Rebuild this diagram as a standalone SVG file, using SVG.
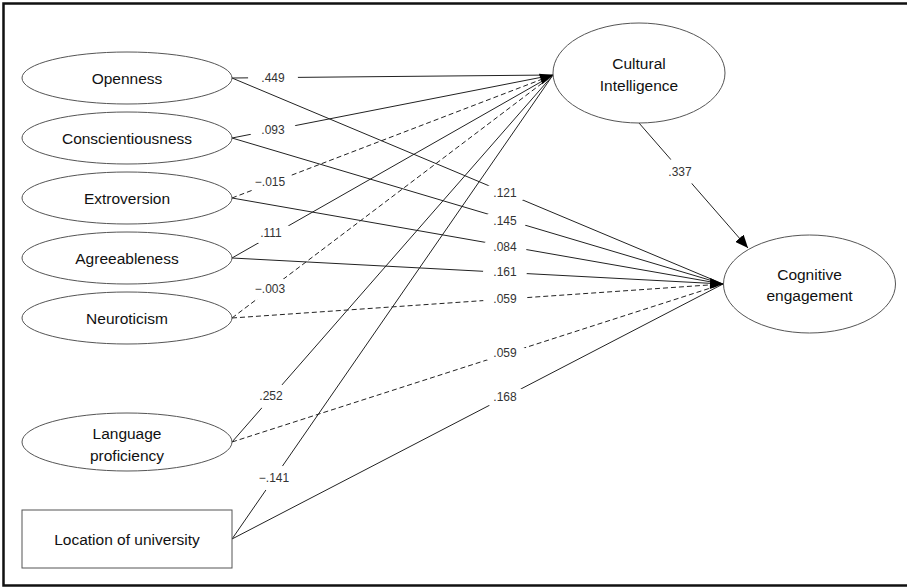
<svg xmlns="http://www.w3.org/2000/svg" xmlns:xlink="http://www.w3.org/1999/xlink" width="907" height="587" viewBox="0 0 907 587">
  <style>
    .node { fill: #fff; stroke: #555; stroke-width: 1; }
    .ntxt { font-family: "Liberation Sans", Arial, sans-serif; font-size: 15.5px; fill: #111; text-anchor: middle; }
    .edge { fill: none; stroke: #222; stroke-width: 1; }
    .dash { stroke-dasharray: 5 3; }
    .lbg { fill: #fff; stroke: none; }
    .ltxt { font-family: "Liberation Sans", Arial, sans-serif; font-size: 12px; fill: #333; text-anchor: middle; }
  </style>
  <defs>
    <path id="ah" d="M0,0 L-13,-5.5 L-13,5.5 Z" fill="#000"/>
    <marker id="arr" markerUnits="userSpaceOnUse" markerWidth="13" markerHeight="11" refX="13" refY="5.5" orient="auto" viewBox="0 0 13 11">
      <path d="M0,0 L13,5.5 L0,11 Z" fill="#000"/>
    </marker>
  </defs>
  <rect x="3.5" y="3.5" width="906" height="582" fill="#fff" stroke="#111" stroke-width="2.5"/>

  <g id="connectors">
    <line class="edge" x1="232" y1="78" x2="553" y2="75"/>
    <line class="edge" x1="232" y1="78" x2="723" y2="284"/>
    <line class="edge" x1="232" y1="138" x2="553" y2="75"/>
    <line class="edge" x1="232" y1="138" x2="723" y2="284"/>
    <line class="edge dash" x1="232" y1="198" x2="553" y2="75"/>
    <line class="edge" x1="232" y1="198" x2="723" y2="284"/>
    <line class="edge" x1="232" y1="258" x2="553" y2="75"/>
    <line class="edge" x1="232" y1="258" x2="723" y2="284"/>
    <line class="edge dash" x1="232" y1="318" x2="553" y2="75"/>
    <line class="edge dash" x1="232" y1="318" x2="723" y2="284"/>
    <line class="edge" x1="232" y1="442" x2="553" y2="75"/>
    <line class="edge dash" x1="232" y1="442" x2="723" y2="284"/>
    <line class="edge" x1="232" y1="539" x2="553" y2="75"/>
    <line class="edge" x1="232" y1="539" x2="723" y2="284"/>
    <line class="edge" x1="639" y1="123" x2="748" y2="248" marker-end="url(#arr)"/>
    <use xlink:href="#ah" href="#ah" transform="translate(553,75) rotate(-18)"/>
    <use xlink:href="#ah" href="#ah" transform="translate(723,284) rotate(2)"/>
  </g>

  <g id="labels">
    <g class="lbg">
      <ellipse cx="273" cy="78" rx="25" ry="12"/>
      <ellipse cx="273" cy="130" rx="24" ry="12"/>
      <ellipse cx="270" cy="182" rx="24" ry="12"/>
      <ellipse cx="271" cy="233" rx="22" ry="12"/>
      <ellipse cx="270" cy="289" rx="24" ry="12"/>
      <ellipse cx="271" cy="396" rx="22" ry="13"/>
      <ellipse cx="274" cy="478" rx="22" ry="13"/>
      <ellipse cx="505" cy="193" rx="22" ry="11"/>
      <ellipse cx="505" cy="221" rx="22" ry="11"/>
      <ellipse cx="505" cy="247" rx="22" ry="11"/>
      <ellipse cx="505" cy="272" rx="22" ry="11"/>
      <ellipse cx="505" cy="299" rx="22" ry="11"/>
      <ellipse cx="505" cy="353" rx="22" ry="11"/>
      <ellipse cx="505" cy="397" rx="22" ry="12"/>
      <ellipse cx="680" cy="172" rx="20" ry="14"/>
    </g>
    <text class="ltxt" x="273" y="82">.449</text>
    <text class="ltxt" x="273" y="134">.093</text>
    <text class="ltxt" x="270" y="186">−.015</text>
    <text class="ltxt" x="271" y="237">.111</text>
    <text class="ltxt" x="270" y="293">−.003</text>
    <text class="ltxt" x="271" y="400">.252</text>
    <text class="ltxt" x="274" y="482">−.141</text>
    <text class="ltxt" x="505" y="197">.121</text>
    <text class="ltxt" x="505" y="225">.145</text>
    <text class="ltxt" x="505" y="251">.084</text>
    <text class="ltxt" x="505" y="276">.161</text>
    <text class="ltxt" x="505" y="303">.059</text>
    <text class="ltxt" x="505" y="357">.059</text>
    <text class="ltxt" x="505" y="401">.168</text>
    <text class="ltxt" x="680" y="176">.337</text>
  </g>

  <g id="openness">
    <ellipse class="node" cx="127" cy="78" rx="105" ry="26"/>
    <text class="ntxt" x="127" y="83.5">Openness</text>
  </g>
  <g id="conscientiousness">
    <ellipse class="node" cx="127" cy="138" rx="105" ry="26"/>
    <text class="ntxt" x="127" y="143.5">Conscientiousness</text>
  </g>
  <g id="extroversion">
    <ellipse class="node" cx="127" cy="198" rx="105" ry="26"/>
    <text class="ntxt" x="127" y="203.5">Extroversion</text>
  </g>
  <g id="agreeableness">
    <ellipse class="node" cx="127" cy="258" rx="105" ry="26"/>
    <text class="ntxt" x="127" y="263.5">Agreeableness</text>
  </g>
  <g id="neuroticism">
    <ellipse class="node" cx="127" cy="318" rx="105" ry="26"/>
    <text class="ntxt" x="127" y="323.5">Neuroticism</text>
  </g>
  <g id="language-proficiency">
    <ellipse class="node" cx="127" cy="442" rx="105" ry="29"/>
    <text class="ntxt" x="127" y="438.5">Language</text>
    <text class="ntxt" x="127" y="460.5">proficiency</text>
  </g>
  <g id="location-of-university">
    <rect class="node" x="22" y="510" width="210" height="58"/>
    <text class="ntxt" x="127" y="545">Location of university</text>
  </g>
  <g id="cultural-intelligence">
    <ellipse class="node" cx="639" cy="73" rx="86" ry="50"/>
    <text class="ntxt" x="639" y="68.5">Cultural</text>
    <text class="ntxt" x="639" y="90.5">Intelligence</text>
  </g>
  <g id="cognitive-engagement">
    <ellipse class="node" cx="809.5" cy="284" rx="86" ry="49"/>
    <text class="ntxt" x="809.5" y="280">Cognitive</text>
    <text class="ntxt" x="809.5" y="301">engagement</text>
  </g>
</svg>
